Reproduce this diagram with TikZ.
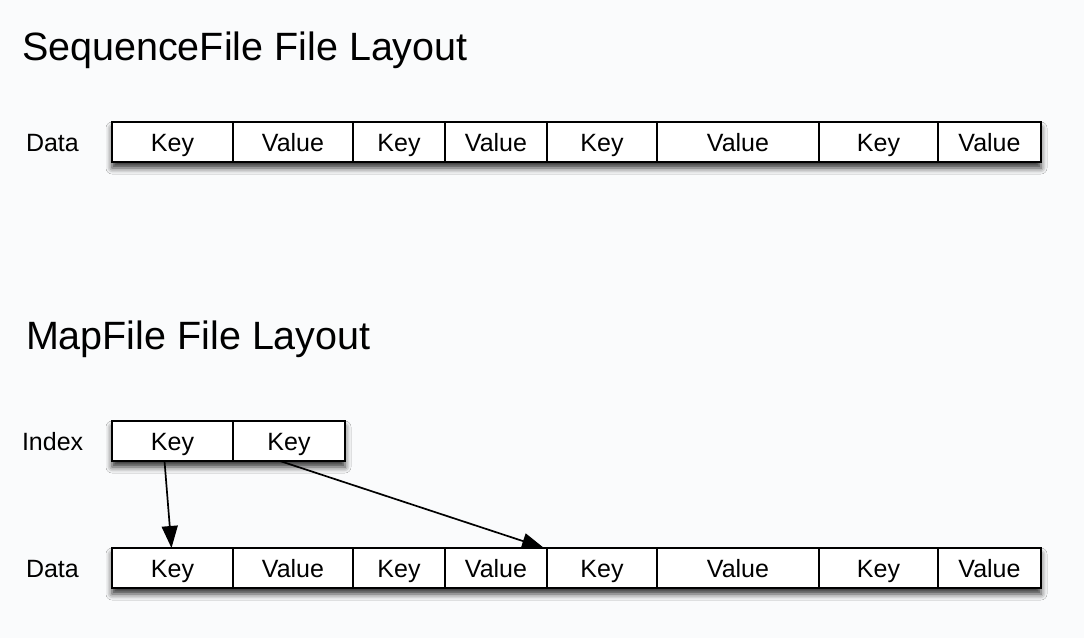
\documentclass[tikz,border=0pt]{standalone}
\usepackage{fontspec}
\setmainfont{Liberation Sans}
\usetikzlibrary{arrows.meta,backgrounds,shadows.blur}

\definecolor{paper}{RGB}{250,251,252}

\begin{document}
\begin{tikzpicture}
[every node/.style={inner sep=0pt, outer sep=0pt},
 cell/.style={rectangle, minimum height=40pt, fill=white, line width=1.7pt, draw=black,
   text height=18pt, text depth=0pt, font=\fontsize{25}{30}\selectfont},
 rowlabel/.style={anchor=west, text height=18pt, text depth=0pt, font=\fontsize{25}{30}\selectfont},
 heading/.style={anchor=base west, font=\fontsize{39.5}{46}\selectfont},
 rowshadow/.style={blur shadow={shadow xshift=0pt, shadow yshift=-6pt, shadow blur radius=6pt, shadow opacity=80}},
 pointer/.style={line width=1.7pt, -{Triangle[length=22pt, width=16pt]}}]
\begin{scope}[on background layer]
\fill[paper] (0pt, 0pt) rectangle (1084pt, -638pt);
\end{scope}
\useasboundingbox (0pt, 0pt) rectangle (1084pt, -638pt);
% SequenceFile
\node (title1) [heading] at (22pt, -60pt) {SequenceFile File Layout};
\node (label1) [rowlabel] at (26pt, -142pt) {Data};
\node (s1) [cell, minimum width=121pt] at (172.5pt, -142pt) {Key};
\node (s2) [cell, minimum width=120pt] at (293.0pt, -142pt) {Value};
\node (s3) [cell, minimum width=92pt] at (399.0pt, -142pt) {Key};
\node (s4) [cell, minimum width=102pt] at (496.0pt, -142pt) {Value};
\node (s5) [cell, minimum width=110pt] at (602.0pt, -142pt) {Key};
\node (s6) [cell, minimum width=162pt] at (738.0pt, -142pt) {Value};
\node (s7) [cell, minimum width=119pt] at (878.5pt, -142pt) {Key};
\node (s8) [cell, minimum width=103pt] at (989.5pt, -142pt) {Value};
% MapFile
\node (title2) [heading] at (26pt, -349pt) {MapFile File Layout};
\node (label2) [rowlabel] at (22pt, -441pt) {Index};
\node (i1) [cell, minimum width=121pt] at (172.5pt, -441pt) {Key};
\node (i2) [cell, minimum width=112pt] at (289.0pt, -441pt) {Key};
\node (label3) [rowlabel] at (26pt, -568pt) {Data};
\node (m1) [cell, minimum width=121pt] at (172.5pt, -568pt) {Key};
\node (m2) [cell, minimum width=120pt] at (293.0pt, -568pt) {Value};
\node (m3) [cell, minimum width=92pt] at (399.0pt, -568pt) {Key};
\node (m4) [cell, minimum width=102pt] at (496.0pt, -568pt) {Value};
\node (m5) [cell, minimum width=110pt] at (602.0pt, -568pt) {Key};
\node (m6) [cell, minimum width=162pt] at (738.0pt, -568pt) {Value};
\node (m7) [cell, minimum width=119pt] at (878.5pt, -568pt) {Key};
\node (m8) [cell, minimum width=103pt] at (989.5pt, -568pt) {Value};
\begin{scope}[on background layer]
\path [rowshadow, fill=white] (s1.north west) rectangle (s8.south east);
\path [rowshadow, fill=white] (i1.north west) rectangle (i2.south east);
\path [rowshadow, fill=white] (m1.north west) rectangle (m8.south east);
\end{scope}
\draw [pointer] ([xshift=-8pt]i1.south) to ([xshift=-1pt]m1.north);
\draw [pointer] ([xshift=-9pt]i2.south) to ([xshift=-3pt]m5.north west);
\end{tikzpicture}
\end{document}
